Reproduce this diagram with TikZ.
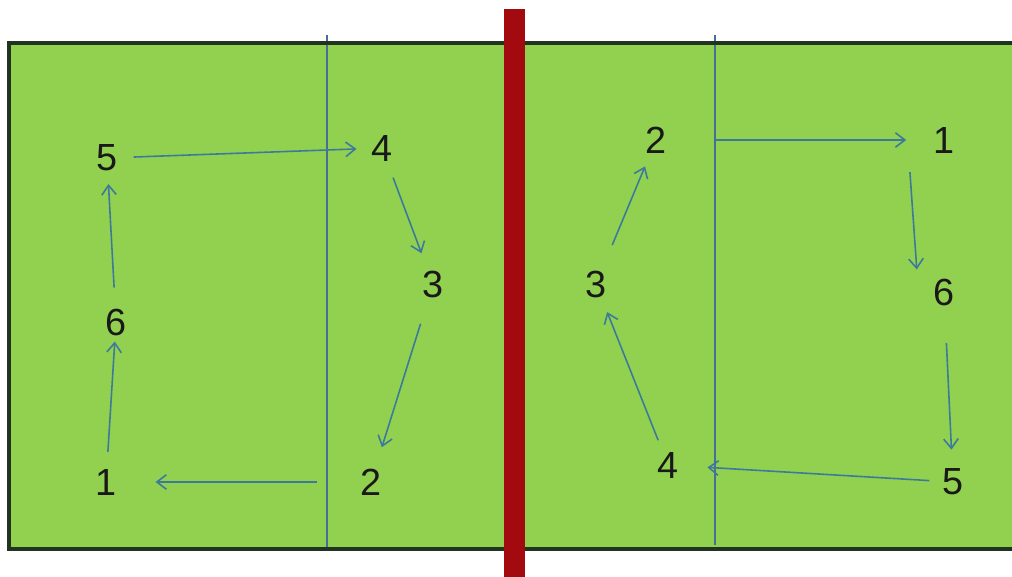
\documentclass[tikz,border=0pt]{standalone}
\usepackage{fontspec}
\setmainfont{Liberation Sans}
\usetikzlibrary{arrows.meta}
\definecolor{courtgreen}{HTML}{92D050}
\definecolor{courtline}{HTML}{22331F}
\definecolor{netred}{HTML}{A30A10}
\definecolor{zoneblue}{HTML}{456F95}
\definecolor{passblue}{HTML}{3C7A9C}

\begin{document}
\begin{tikzpicture}[x=0.02cm,y=-0.02cm,
    spot/.style={inner sep=3.33pt,text=black!90,font=\fontsize{21.5}{25}\selectfont},
    rot/.style={passblue,line width=0.9pt,-{Straight Barb[length=1.9mm,width=2.9mm]}}]
    \useasboundingbox (0,0) rectangle (1012,576);
    \clip (0,0) rectangle (1012,576);
    % court, attack lines and net
    \fill[courtgreen] (9,43) rectangle (1030,549);
    \draw[zoneblue,line width=1pt] (327,35) -- (327,549);
    \draw[zoneblue,line width=1pt] (715,35) -- (715,545);
    \draw[courtline,line width=1.8pt] (1030,43) -- (9,43) -- (9,549) -- (1030,549);
    \fill[netred] (504,9) rectangle (525,580);
    % left side
    \node[spot] (l1) at (106,482) {1};
    \node[spot] (l2) at (371,482) {2};
    \node[spot] (l3) at (433,284) {3};
    \node[spot] (l4) at (382,148) {4};
    \node[spot] (l5) at (107,158) {5};
    \node[spot] (l6) at (116,322) {6};
    \draw[rot,shorten <=5.7pt,shorten >=5pt] (l5) -- (l4);
    \draw[rot,shorten <=6.3pt,shorten >=6.8pt] (l4) -- (l3);
    \draw[rot,shorten <=12pt,shorten >=9.2pt] (l3) -- (l2);
    \draw[rot,shorten <=21.5pt,shorten >=18.7pt] (l2) -- (l1);
    \draw[rot,shorten <=6.2pt,shorten >=0pt] (l1) -- (l6);
    \draw[rot,shorten <=8.5pt,shorten >=3.8pt] (l6) -- (l5);
    % right side
    \node[spot] (r1) at (944,140) {1};
    \node[spot] (r2) at (656,140) {2};
    \node[spot] (r3) at (596,284) {3};
    \node[spot] (r4) at (668,465) {4};
    \node[spot] (r5) at (953,482) {5};
    \node[spot] (r6) at (944,292) {6};
    \draw[rot,shorten <=24.4pt,shorten >=12pt] (r2) -- (r1);
    \draw[rot,shorten <=7.4pt,shorten >=1.7pt] ([xshift=-0.7cm]r1.south) -- ([xshift=-0.54cm]r6.north);
    \draw[rot,shorten <=18pt,shorten >=7.4pt] (r6) -- (r5);
    \draw[rot,shorten <=4pt,shorten >=13pt] (r5) -- (r4);
    \draw[rot,shorten <=3.4pt,shorten >=5.2pt] (r4) -- (r3);
    \draw[rot,shorten <=11.9pt,shorten >=4.3pt] (r3) -- (r2);
\end{tikzpicture}
\end{document}
